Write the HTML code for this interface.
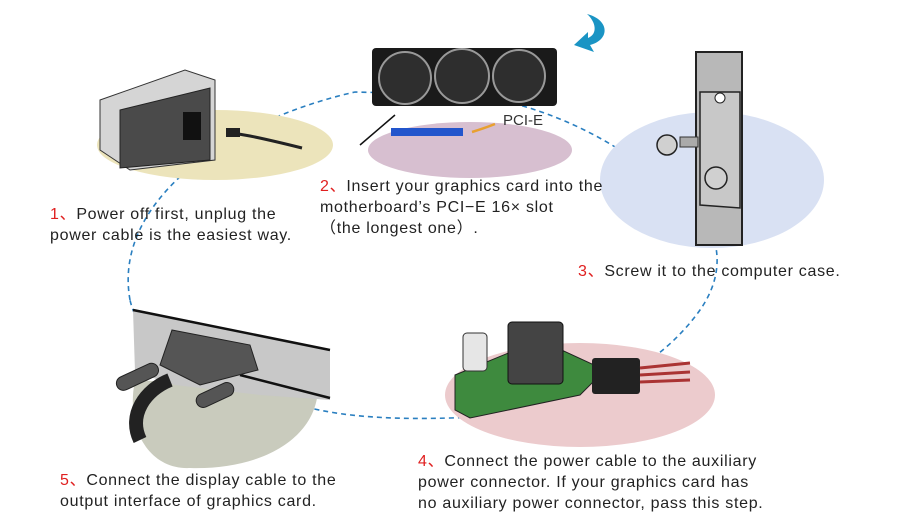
<!DOCTYPE html>
<html><head><meta charset="utf-8"><style>
html,body{margin:0;padding:0;background:#fff;}
#w{position:relative;width:900px;height:530px;overflow:hidden;font-family:"Liberation Sans","Noto Sans CJK SC",sans-serif;}
.t{position:absolute;font-size:16px;letter-spacing:0.7px;line-height:21px;color:#222;white-space:nowrap;}
.r{color:#e02020;}
svg{position:absolute;left:0;top:0;}
</style></head><body><div id="w">
<svg width="900" height="530" viewBox="0 0 900 530">
<path d="M130,300 C112,200 230,120 355,92 L480,95 C540,108 580,125 620,150 C720,200 735,260 700,310 C650,380 560,415 450,418 C380,420 340,415 310,408 C200,390 140,345 130,300 Z" fill="none" stroke="#2a7fc0" stroke-width="1.6" stroke-dasharray="5,4"/>
<ellipse cx="215" cy="145" rx="118" ry="35" fill="#ece4bb"/>
<ellipse cx="470" cy="150" rx="102" ry="28" fill="#d7bfd0"/>
<ellipse cx="712" cy="180" rx="112" ry="68" fill="#d9e1f3"/>
<ellipse cx="580" cy="395" rx="135" ry="52" fill="#eccbcd"/>
<path d="M135,380 C125,430 150,470 190,468 C260,470 315,440 318,390 Z" fill="#c9cbbd"/>
<polygon points="100,100 185,70 215,80 215,160 130,170 100,150" fill="#d5d5d5" stroke="#333" stroke-width="1"/>
<polygon points="120,110 210,88 210,160 120,168" fill="#4a4a4a" stroke="#222"/>
<rect x="183" y="112" width="18" height="28" fill="#111"/>
<path d="M227,132 L250,136 C270,140 290,145 302,148" stroke="#222" stroke-width="3" fill="none"/>
<rect x="226" y="128" width="14" height="9" fill="#222"/>
<rect x="372" y="48" width="185" height="58" rx="4" fill="#1a1a1a"/>
<circle cx="405" cy="78" r="26" fill="#2e2e2e" stroke="#999" stroke-width="2"/>
<circle cx="462" cy="76" r="27" fill="#2e2e2e" stroke="#999" stroke-width="2"/>
<circle cx="519" cy="76" r="26" fill="#2e2e2e" stroke="#999" stroke-width="2"/>
<line x1="395" y1="115" x2="360" y2="145" stroke="#111" stroke-width="1.5"/>
<rect x="391" y="128" width="72" height="8" fill="#2255cc"/>
<path d="M472,132 Q485,128 495,124" stroke="#e8a030" stroke-width="2.5" fill="none"/>
<text x="503" y="125" font-family="Liberation Sans,sans-serif" font-size="15" fill="#333">PCI-E</text>
<path d="M587,14 C610,20 610,40 590,45 L594,52 L574,45 L588,32 L588,38 C598,34 596,22 587,14 Z" fill="#1a94c4"/>
<rect x="696" y="52" width="46" height="193" fill="#b8b8b8" stroke="#222" stroke-width="2"/>
<polygon points="700,92 740,92 740,208 700,205" fill="#c8c8c8" stroke="#222" stroke-width="1.5"/>
<circle cx="720" cy="98" r="5" fill="#fff" stroke="#222"/>
<rect x="680" y="137" width="18" height="10" fill="#aaa" stroke="#333"/>
<circle cx="667" cy="145" r="10" fill="#d0d0d0" stroke="#222" stroke-width="1.5"/>
<circle cx="716" cy="178" r="11" fill="#d0d0d0" stroke="#222" stroke-width="1.5"/>
<polygon points="133,310 330,350 330,400 260,395 175,385 135,372" fill="#c8c8c8"/>
<line x1="133" y1="310" x2="330" y2="350" stroke="#111" stroke-width="2.5"/>
<line x1="240" y1="375" x2="330" y2="398" stroke="#111" stroke-width="2.5"/>
<path d="M140,440 C128,415 145,390 170,380" stroke="#222" stroke-width="14" fill="none"/>
<polygon points="172,330 250,345 258,370 200,385 160,365" fill="#555" stroke="#222"/>
<rect x="115" y="370" width="45" height="14" rx="7" transform="rotate(-25 137 377)" fill="#555" stroke="#222"/>
<rect x="195" y="388" width="40" height="14" rx="7" transform="rotate(-25 215 395)" fill="#555" stroke="#222"/>
<polygon points="455,375 540,340 605,370 580,395 470,418 455,410" fill="#3e8a3e" stroke="#222"/>
<rect x="463" y="333" width="24" height="38" rx="4" fill="#e6e6e6" stroke="#333"/>
<rect x="508" y="322" width="55" height="62" rx="4" fill="#444" stroke="#111"/>
<rect x="592" y="358" width="48" height="36" rx="3" fill="#222"/>
<path d="M640,368 L690,363 M640,375 L690,372 M640,382 L690,380" stroke="#a33" stroke-width="3"/>
</svg>
<div class="t" style="left:50px;top:204px"><span class="r">1、</span>Power off first, unplug the<br>power cable is the easiest way.</div>
<div class="t" style="left:320px;top:176px"><span class="r">2、</span>Insert your graphics card into the<br>motherboard’s PCI−E 16× slot<br>（the longest one）.</div>
<div class="t" style="left:578px;top:261px"><span class="r">3、</span>Screw it to the computer case.</div>
<div class="t" style="left:418px;top:451px"><span class="r">4、</span>Connect the power cable to the auxiliary<br>power connector. If your graphics card has<br>no auxiliary power connector, pass this step.</div>
<div class="t" style="left:60px;top:470px"><span class="r">5、</span>Connect the display cable to the<br>output interface of graphics card.</div>
</div></body></html>
